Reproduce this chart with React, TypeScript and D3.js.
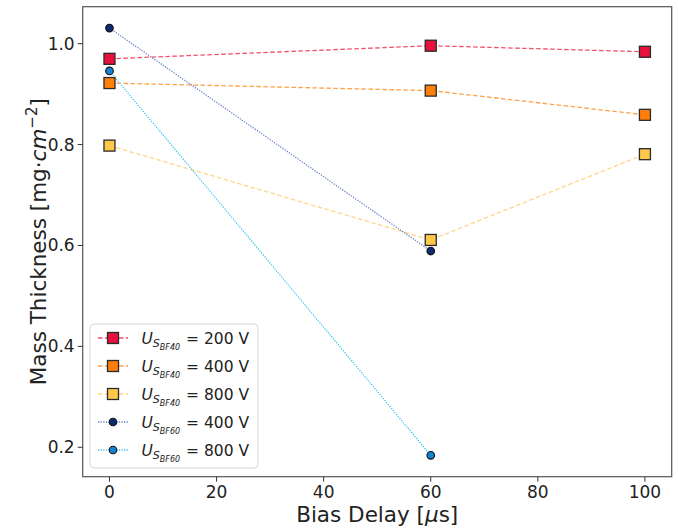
import React from "react";
import * as d3 from "d3";

const xDelays40 = [0, 60, 100];
const xDelays60 = [0, 60];
const sbf40_200 = [0.970, 0.996, 0.984];
const sbf40_400 = [0.922, 0.907, 0.859];
const sbf40_800 = [0.798, 0.611, 0.781];
const sbf60_400 = [1.031, 0.589];
const sbf60_800 = [0.946, 0.184];
const xTicks = [0, 20, 40, 60, 80, 100];
const yTicks = [0.2, 0.4, 0.6, 0.8, 1.0];
const legendVoltages = ["200", "400", "800", "400", "800"];
const legendSeries = ["BF40", "BF40", "BF40", "BF60", "BF60"];

const W = 678, H = 532;
const L = 82.7, R = 671.7, T = 6.7, B = 476.7;
const FONT = "DejaVu Sans, sans-serif";

type S = { xs: number[]; ys: number[]; marker: "sq" | "ci"; fill: string; line: string; dash: string };

const series: S[] = [
  { xs: xDelays40, ys: sbf40_200, marker: "sq", fill: "#e8113c", line: "#f4506e", dash: "4.5,2.5" },
  { xs: xDelays40, ys: sbf40_400, marker: "sq", fill: "#ff7f0a", line: "#ffa043", dash: "4.5,2.5" },
  { xs: xDelays40, ys: sbf40_800, marker: "sq", fill: "#ffc84a", line: "#ffd68a", dash: "4.5,2.5" },
  { xs: xDelays60, ys: sbf60_400, marker: "ci", fill: "#0b2a6e", line: "#6a86c8", dash: "1.3,1.3" },
  { xs: xDelays60, ys: sbf60_800, marker: "ci", fill: "#1383d0", line: "#45c4f2", dash: "1.3,1.3" },
];

function Marker({ x, y, s }: { x: number; y: number; s: S }) {
  if (s.marker === "sq") {
    return <rect x={x - 5.5} y={y - 5.5} width={11} height={11} fill={s.fill} stroke="#2a2a2a" strokeWidth={1.3} />;
  }
  return <circle cx={x} cy={y} r={3.8} fill={s.fill} stroke="#111" strokeWidth={1.1} />;
}

export default function App() {
  const all = [...sbf40_200, ...sbf40_400, ...sbf40_800, ...sbf60_400, ...sbf60_800];
  const ymin = d3.min(all)!, ymax = d3.max(all)!;
  const pad = (ymax - ymin) * 0.05;
  const x = d3.scaleLinear().domain([-5, 105]).range([L, R]);
  const y = d3.scaleLinear().domain([ymin - pad, ymax + pad]).range([B, T]);
  const line = (s: S) =>
    d3.line<number>().x((_, i) => x(s.xs[i])).y((d) => y(d))(s.ys)!;

  const legX = 90, legY = 324, legW = 168, legH = 144;
  const rowY0 = 338, rowStep = 28;

  return (
    <svg width={W} height={H} style={{ position: "absolute", left: 0, top: 0, background: "#fff" }} fontFamily={FONT}>
      <rect x={0} y={0} width={W} height={H} fill="#fff" />
      {series.map((s, i) => (
        <path key={"l" + i} d={line(s)} fill="none" stroke={s.line} strokeWidth={1.3} strokeDasharray={s.dash} />
      ))}
      {series.map((s, i) =>
        s.ys.map((v, j) => <Marker key={"m" + i + "-" + j} x={x(s.xs[j])} y={y(v)} s={s} />)
      )}
      <rect x={L} y={T} width={R - L} height={B - T} fill="none" stroke="#555" strokeWidth={1.2} />
      {xTicks.map((t) => (
        <g key={"xt" + t}>
          <line x1={x(t)} x2={x(t)} y1={B} y2={B + 5} stroke="#333" strokeWidth={1} />
          <text x={x(t)} y={B + 21.5} fontSize={17} textAnchor="middle" fill="#222">{t}</text>
        </g>
      ))}
      {yTicks.map((t) => (
        <g key={"yt" + t}>
          <line x1={L - 5} x2={L} y1={y(t)} y2={y(t)} stroke="#333" strokeWidth={1} />
          <text x={L - 8} y={y(t) + 6} fontSize={17} textAnchor="end" fill="#222">{t.toFixed(1)}</text>
        </g>
      ))}
      <text x={(L + R) / 2} y={522} fontSize={21.5} textAnchor="middle" fill="#222">
        Bias Delay [<tspan fontStyle="italic">μ</tspan>s]
      </text>
      <text transform={`translate(46, ${(T + B) / 2}) rotate(-90)`} fontSize={21.5} textAnchor="middle" fill="#222">
        Mass Thickness [mg·<tspan fontStyle="italic">cm</tspan>
        <tspan fontSize={15} dy={-9}>−2</tspan>
        <tspan dy={9}>]</tspan>
      </text>
      <rect x={legX} y={legY} width={legW} height={legH} rx={4} fill="#fff" fillOpacity={0.85} stroke="#d8d8d8" strokeWidth={1} />
      {series.map((s, i) => {
        const cy = rowY0 + i * rowStep;
        return (
          <g key={"lg" + i}>
            <line x1={98} x2={128} y1={cy} y2={cy} stroke={s.line} strokeWidth={1.3} strokeDasharray={s.dash} />
            <Marker x={113} y={cy} s={s} />
            <text x={141.5} y={cy + 5.5} fontSize={15.5} fill="#222">
              <tspan fontStyle="italic">U</tspan>
              <tspan fontStyle="italic" fontSize={11} dy={3}>S</tspan>
              <tspan fontStyle="italic" fontSize={8} dy={3}>{legendSeries[i]}</tspan>
            </text>
            <text x={186} y={cy + 5.5} fontSize={15.5} fill="#222">= {legendVoltages[i]} V</text>
          </g>
        );
      })}
    </svg>
  );
}
